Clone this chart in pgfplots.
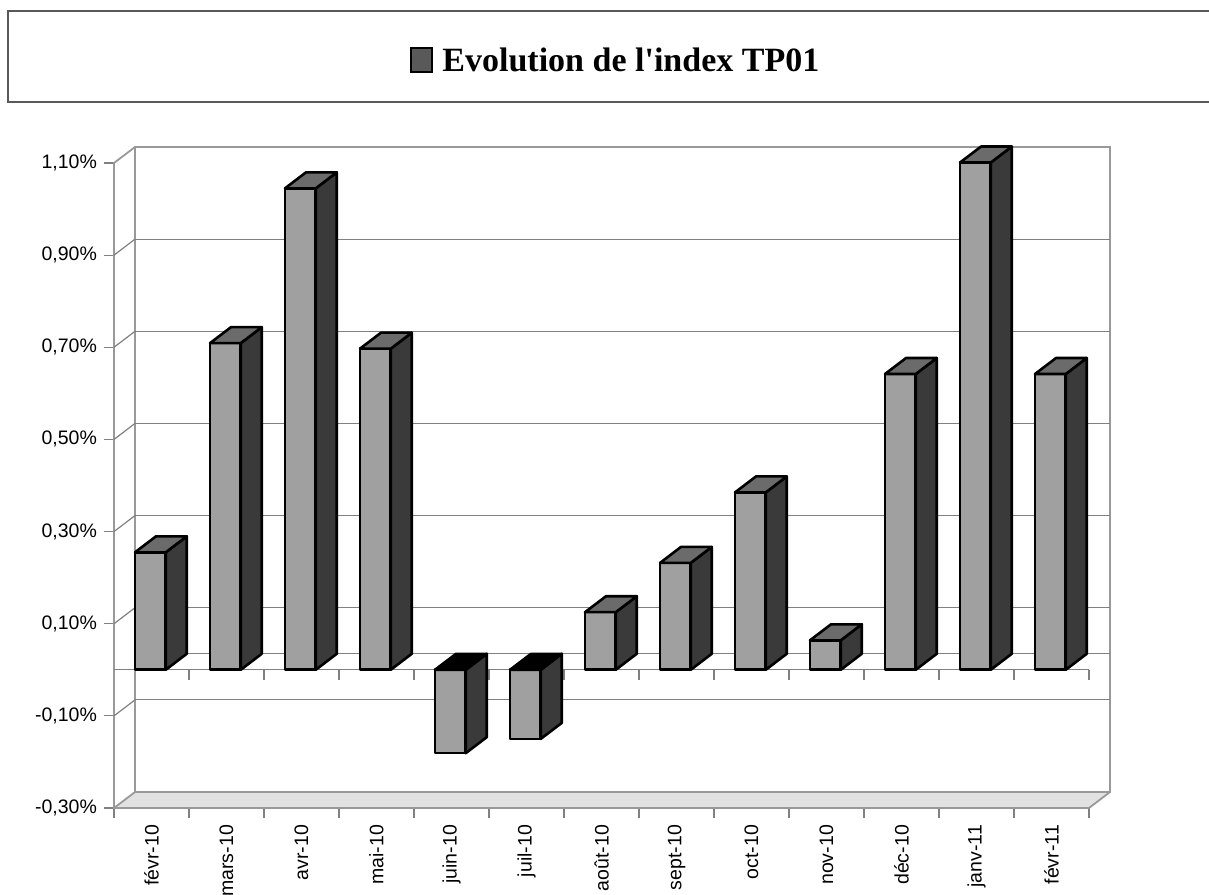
\documentclass[border=0pt]{standalone}
\usepackage{pgfplots}
\usepackage{pgfplotstable}
\pgfplotsset{compat=1.18}
\usepackage{fontspec}
\setmainfont{Liberation Sans}
\newfontfamily\titlefont[Ligatures=TeXOff]{Liberation Serif}
\definecolor{frontc}{HTML}{A0A0A0}
\definecolor{sidec}{HTML}{3A3A3A}
\definecolor{topc}{HTML}{6B6B6B}
\definecolor{gridc}{HTML}{808080}
\definecolor{wallc}{HTML}{999999}
\definecolor{floorc}{HTML}{E2E2E2}

\pgfplotstableread{
i v
0 0.255
1 0.709
2 1.045
3 0.697
4 -0.181
5 -0.150
6 0.125
7 0.232
8 0.385
9 0.064
10 0.642
11 1.101
12 0.642
}\datatable

\begin{document}
\begin{tikzpicture}[x=0.5pt,y=0.5pt]
\useasboundingbox (0,0) rectangle (1209,894);
% title box
\draw[draw=black!65, line width=0.8pt] (8,883) rectangle (1220,792);
\draw[fill=black!65, draw=black, line width=0.8pt] (411,822) rectangle (432,846);
\node[anchor=west, inner sep=0pt] at (442,834) {\titlefont\bfseries\fontsize{17}{20}\selectfont Evolution de l'index TP01};
\begin{axis}[
  at={(57pt,43pt)}, anchor=south west,
  width=487.5pt, height=322.5pt, scale only axis,
  xmin=0, xmax=13, ymin=-0.3, ymax=1.1,
  clip=false,
  axis line style={draw=none},
  tick pos=left, tick align=outside,
  major tick length=5pt,
  tick style={draw=gridc, line width=0.6pt},
  xtick={0,...,13},
  x tick label as interval,
  xticklabels={févr-10,mars-10,avr-10,mai-10,juin-10,juil-10,août-10,sept-10,oct-10,nov-10,déc-10,janv-11,févr-11},
  ytick={-0.3,-0.1,0.1,0.3,0.5,0.7,0.9,1.1},
  yticklabels={{-0,30\%},{-0,10\%},{0,10\%},{0,30\%},{0,50\%},{0,70\%},{0,90\%},{1,10\%}},
  tick label style={font=\fontsize{9.75}{11}\selectfont},
  x tick label style={rotate=90, anchor=east},
]
% back wall
\draw[wallc, line width=0.9pt, fill=white] (0.28,-0.2653) rectangle (13.28,1.1347);
% floor
\draw[fill=floorc, draw=wallc, line width=0.9pt, line join=round] (0,-0.3) -- (13,-0.3) -- (13.28,-0.2653) -- (0.28,-0.2653) -- cycle;
% back wall gridlines
\pgfplotsinvokeforeach{-0.0653,0.0347,0.1347,0.3347,0.5347,0.7347,0.9347}{
  \draw[gridc, line width=0.6pt] (0.28,#1) -- (13.28,#1);
}
% left wall
\draw[wallc, line width=0.9pt] (0,-0.3) -- (0,1.1) -- (0.28,1.1347);
\pgfplotsinvokeforeach{-0.1,0.1,0.3,0.5,0.7,0.9}{
  \draw[gridc, line width=0.6pt] (0,#1) -- (0.28,#1+0.0347);
}
% front zero line with ticks
\draw[gridc, line width=0.6pt] (0,0) -- (13,0);
\pgfplotsinvokeforeach{1,...,13}{
  \draw[gridc, line width=0.6pt] (#1,0) -- ++(0pt,-5pt);
}
% bars: front faces
\addplot[ybar, bar width=0.41, fill=frontc, draw=black, line width=1.3pt, line join=round, mark=none]
  table[x expr=\thisrow{i}+0.485, y=v] {\datatable};
% bars: side and top faces
\pgfplotsinvokeforeach{0,...,12}{%
  \pgfplotstablegetelem{#1}{v}\of\datatable
  \pgfmathsetmacro\va{\pgfplotsretval}%
  \pgfmathsetmacro\vt{max(\va,0)}%
  \pgfmathsetmacro\vtb{\vt+0.0347}%
  \pgfmathsetmacro\vab{\va+0.0347}%
  \pgfmathsetmacro\xl{#1+0.28}%
  \pgfmathsetmacro\xr{#1+0.69}%
  \pgfmathsetmacro\xlb{#1+0.56}%
  \pgfmathsetmacro\xrb{#1+0.97}%
  \edef\doplot{%
    \noexpand\addplot[fill=sidec, draw=black, line width=1.3pt, line join=round, mark=none]
      coordinates {(\xr,0) (\xr,\va) (\xrb,\vab) (\xrb,0.0347)} -- cycle;
    \noexpand\addplot[fill=\ifdim\va pt<0pt black\else topc\fi, draw=black, line width=1.3pt, line join=round, mark=none]
      coordinates {(\xl,\vt) (\xr,\vt) (\xrb,\vtb) (\xlb,\vtb)} -- cycle;
  }\doplot
}
\end{axis}
\end{tikzpicture}
\end{document}
